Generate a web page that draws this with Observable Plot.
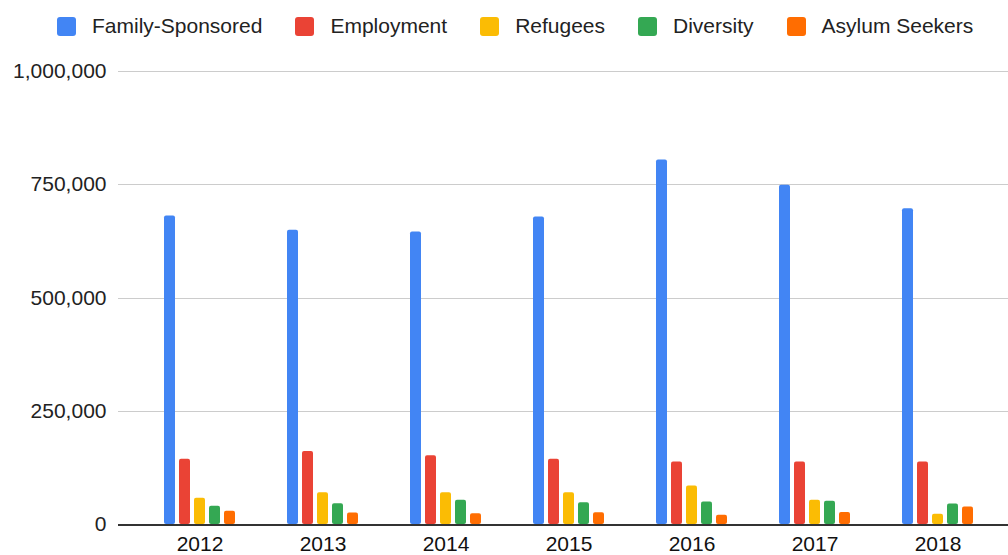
<!DOCTYPE html>
<html>
<head>
<meta charset="utf-8">
<script src="https://cdn.jsdelivr.net/npm/d3@7"></script>
<script src="https://cdn.jsdelivr.net/npm/@observablehq/plot@0.6"></script>
<style>
  html, body { margin: 0; padding: 0; background: #fff; overflow: hidden; }
  body { width: 1008px; height: 555px; font-family: Arial, "Liberation Sans", sans-serif; }
  #legend { height: 52px; display: flex; align-items: center; padding-left: 57px; box-sizing: border-box; font-size: 21px; color: #222; }
  #legend .item { display: flex; align-items: center; margin-right: 33px; }
  #legend .sw { width: 19px; height: 19px; border-radius: 3px; margin-right: 16px; }
</style>
</head>
<body>
<div id="legend"></div>
<div id="chart"></div>
<script>
const years = ["2012", "2013", "2014", "2015", "2016", "2017", "2018"];
const seriesNames = ["Family-Sponsored", "Employment", "Refugees", "Diversity", "Asylum Seekers"];
const colors = ["#4285F4", "#EA4335", "#FBBC04", "#34A853", "#FF6D01"];
const familySponsored = [680800, 649800, 645600, 679000, 804800, 748700, 697000];
const employment = [144000, 161100, 151600, 144000, 137900, 137900, 138200];
const refugees = [58200, 69900, 70000, 69900, 85000, 53700, 22400];
const diversity = [40300, 45600, 53500, 47900, 49900, 51600, 45400];
const asylumSeekers = [29500, 25200, 23500, 26100, 20500, 26600, 38700];
const yTicks = [0, 250000, 500000, 750000, 1000000];

const seriesValues = [familySponsored, employment, refugees, diversity, asylumSeekers];
const data = [];
years.forEach((yr, i) => {
  seriesNames.forEach((s, j) => data.push({year: yr, series: s, value: seriesValues[j][i]}));
});

const legend = document.getElementById("legend");
seriesNames.forEach((s, j) => {
  const it = document.createElement("div");
  it.className = "item";
  it.innerHTML = `<span class="sw" style="background:${colors[j]}"></span><span>${s}</span>`;
  legend.appendChild(it);
});

const chart = Plot.plot({
  width: 1008,
  height: 503,
  marginTop: 19,
  marginBottom: 31,
  marginLeft: 138,
  marginRight: 9,
  style: {fontFamily: "Arial, 'Liberation Sans', sans-serif", fontSize: "21px", color: "#222", background: "#fff"},
  fx: {domain: years, padding: 0, axis: null},
  x: {domain: seriesNames, paddingInner: 0.25, paddingOuter: 1.47, axis: null},
  y: {domain: [0, 1000000], axis: null},
  color: {domain: seriesNames, range: colors},
  marks: [
    Plot.ruleY(yTicks.filter(d => d > 0), {stroke: "#cccccc", strokeWidth: 1, insetLeft: -20, insetRight: -9, shapeRendering: "crispEdges"}),
    Plot.axisY({ticks: yTicks, tickSize: 0, tickPadding: 32, tickFormat: d3.format(","), fill: "#222", fontSize: 21, label: null}),
    Plot.barY(data, {fx: "year", x: "series", y: "value", fill: "series", rx: 2}),
    Plot.ruleY([0], {stroke: "#333", strokeWidth: 2, insetLeft: -20, insetRight: -9, shapeRendering: "crispEdges"}),
    Plot.axisFx({anchor: "bottom", tickSize: 0, tickPadding: 12, fontSize: 21, fill: "#111", label: null})
  ]
});
document.getElementById("chart").appendChild(chart);
</script>
</body>
</html>
